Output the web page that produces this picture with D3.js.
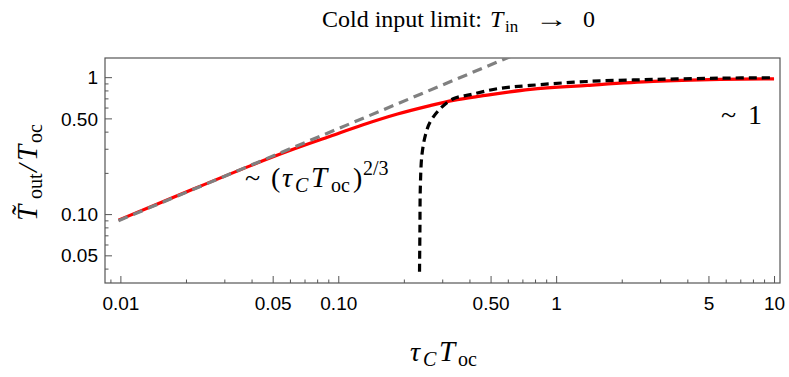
<!DOCTYPE html>
<html>
<head>
<meta charset="utf-8">
<script src="https://cdn.jsdelivr.net/npm/d3@7"></script>
<style>
  body { margin: 0; background: #fff; }
  text { fill: #000; }
</style>
</head>
<body>
<script>
// values
var tauRed = [0.0098, 0.0188, 0.0394, 0.0603, 0.0919, 0.130, 0.187, 0.264, 0.337, 0.448, 0.760, 1.39, 2.79, 5.65, 10];
var toutRed = [0.0904, 0.139, 0.225, 0.292, 0.370, 0.449, 0.538, 0.620, 0.677, 0.727, 0.814, 0.870, 0.930, 0.962, 0.973];

var tauBlack = [0.236, 0.237, 0.238, 0.242, 0.251, 0.264, 0.294, 0.337, 0.404, 0.536, 0.760, 1.39, 2.79, 5.65, 10];
var toutBlack = [0.038, 0.0764, 0.155, 0.269, 0.376, 0.470, 0.589, 0.696, 0.745, 0.823, 0.870, 0.930, 0.962, 0.983, 0.99];

var tauGrey = [0.0098, 0.62];
var toutGrey = [0.0895, 1.42];

var xMajor = [0.01, 0.05, 0.1, 0.5, 1, 5, 10];
var xMajorLabels = ["0.01", "0.05", "0.10", "0.50", "1", "5", "10"];
var xMinor = [0.009, 0.02, 0.03, 0.04, 0.06, 0.07, 0.08, 0.09, 0.2, 0.3, 0.4, 0.6, 0.7, 0.8, 0.9, 2, 3, 4, 6, 7, 8, 9];
var yMajor = [0.05, 0.1, 0.5, 1];
var yMajorLabels = ["0.05", "0.10", "0.50", "1"];
var yMinor = [0.04, 0.06, 0.07, 0.08, 0.09, 0.2, 0.3, 0.4, 0.6, 0.7, 0.8, 0.9];

var W = 789, H = 377;
var mLeft = 105, mRight = 780, mTop = 58, mBottom = 283;

var svg = d3.select('body').append('svg')
    .attr('width', W)
    .attr('height', H);

var x = d3.scaleLog().domain([0.0085, 10.65]).range([mLeft, mRight]);
var y = d3.scaleLog().domain([0.0314, 1.38]).range([mBottom, mTop]);

svg.append('clipPath').attr('id', 'clip')
  .append('rect')
    .attr('x', mLeft).attr('y', mTop)
    .attr('width', mRight - mLeft).attr('height', mBottom - mTop);

// axes, ticks point inward
var xAxis = d3.axisBottom(x).tickValues(xMajor).tickSize(-7).tickFormat(function(d, i) { return xMajorLabels[i]; });
var xAxisMinor = d3.axisBottom(x).tickValues(xMinor).tickSize(-3.5).tickFormat('');
var yAxis = d3.axisLeft(y).tickValues(yMajor).tickSize(-7).tickFormat(function(d, i) { return yMajorLabels[i]; });
var yAxisMinor = d3.axisLeft(y).tickValues(yMinor).tickSize(-3.5).tickFormat('');

function styleAxis(g) {
  g.select('.domain').remove();
  g.selectAll('line').attr('stroke', '#555').attr('stroke-width', 1);
  g.selectAll('text')
    .attr('font-family', 'Liberation Sans, Arial, sans-serif')
    .attr('font-size', 19)
    .attr('fill', '#000');
}

svg.append('g').attr('transform', 'translate(0,' + mBottom + ')').call(xAxisMinor).call(styleAxis);
svg.append('g').attr('transform', 'translate(0,' + mBottom + ')').call(xAxis).call(styleAxis)
  .selectAll('text').attr('dy', null).attr('y', 27);
svg.append('g').attr('transform', 'translate(' + mLeft + ',0)').call(yAxisMinor).call(styleAxis);
svg.append('g').attr('transform', 'translate(' + mLeft + ',0)').call(yAxis).call(styleAxis)
  .selectAll('text').attr('x', -7).attr('dy', '0.35em');

svg.append('rect')
    .attr('x', mLeft).attr('y', mTop)
    .attr('width', mRight - mLeft).attr('height', mBottom - mTop)
    .attr('fill', 'none')
    .attr('stroke', '#555')
    .attr('stroke-width', 1.2);

var line = d3.line()
    .x(function(d) { return x(d[0]); })
    .y(function(d) { return y(d[1]); })
    .curve(d3.curveCatmullRom.alpha(0.5));

var plot = svg.append('g').attr('clip-path', 'url(#clip)');

plot.append('path')
    .datum(d3.zip(tauRed, toutRed))
    .attr('d', line)
    .attr('fill', 'none')
    .attr('stroke', '#ff0000')
    .attr('stroke-width', 3.2);

plot.append('path')
    .datum(d3.zip(tauBlack, toutBlack))
    .attr('d', line)
    .attr('fill', 'none')
    .attr('stroke', '#000')
    .attr('stroke-width', 3.2)
    .attr('stroke-dasharray', '8,5');

plot.append('path')
    .datum(d3.zip(tauGrey, toutGrey))
    .attr('d', d3.line().x(function(d) { return x(d[0]); }).y(function(d) { return y(d[1]); }))
    .attr('fill', 'none')
    .attr('stroke', '#808080')
    .attr('stroke-width', 3.2)
    .attr('stroke-dasharray', '10,6');

var serif = 'Liberation Serif, Times New Roman, serif';

function txt(parent, px, py, size, s, italic) {
  return parent.append('text')
    .attr('x', px).attr('y', py)
    .attr('font-family', serif)
    .attr('font-size', size)
    .attr('font-style', italic ? 'italic' : 'normal')
    .text(s);
}

// title
txt(svg, 322, 27, 24, 'Cold input limit:');
txt(svg, 490, 27, 24, 'T', true);
txt(svg, 505, 32, 17, 'in');
txt(svg, 535, 27, 24, '\u2192').attr('textLength', 33).attr('lengthAdjust', 'spacingAndGlyphs');
txt(svg, 583, 27, 24, '0');

// x label
txt(svg, 410, 361, 28, '\u03c4', true);
txt(svg, 423, 366, 20, 'C', true);
txt(svg, 439, 361, 29, 'T', true);
txt(svg, 458, 366, 20, 'oc');

// y label, rotated
var yl = svg.append('g').attr('transform', 'translate(37,0) rotate(-90)');
txt(yl, -221, 0, 29, 'T\u0303', true);
txt(yl, -199, 5, 20, 'out');
txt(yl, -172, 0, 28, '/', true);
txt(yl, -161, 0, 29, 'T', true);
txt(yl, -143, 5, 20, 'oc');

// annotations
txt(svg, 245, 187, 28, '~');
txt(svg, 271, 187, 28, '(');
txt(svg, 282, 187, 28, '\u03c4', true);
txt(svg, 295, 192, 20, 'C', true);
txt(svg, 311, 187, 29, 'T', true);
txt(svg, 331, 192, 20, 'oc');
txt(svg, 353, 187, 28, ')');
txt(svg, 363, 175, 20, '2/3');

txt(svg, 721, 124, 28, '~');
txt(svg, 748, 124, 28, '1');
</script>
</body>
</html>
